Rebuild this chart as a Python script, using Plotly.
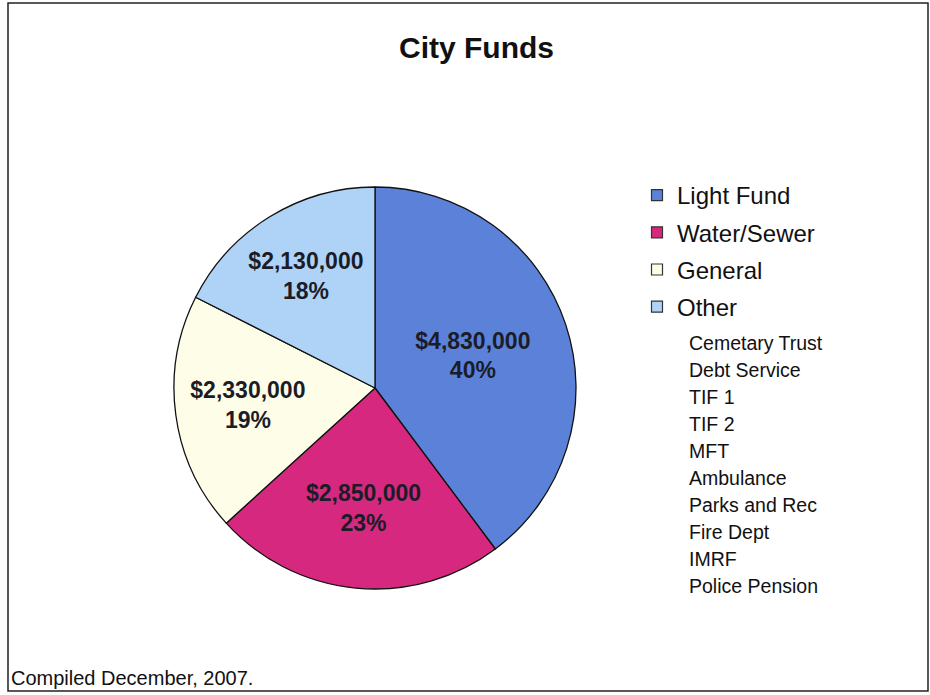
import plotly.graph_objects as go

W, H = 930, 695

# ---- data ----
fund_labels = ["Light Fund", "Water/Sewer", "General", "Other"]
fund_values = [4830000, 2850000, 2330000, 2130000]
fund_colors = ["#5B82D8", "#D6287F", "#FEFEE8", "#AED3F7"]
other_items = ["Cemetary Trust", "Debt Service", "TIF 1", "TIF 2", "MFT",
               "Ambulance", "Parks and Rec", "Fire Dept", "IMRF", "Police Pension"]
title_text = "City Funds"
footnote_text = "Compiled December, 2007."


def px_x(x):
    return x / W


def px_y(y):
    return 1 - y / H


FONT = "Liberation Sans, Arial, sans-serif"

fig = go.Figure()
fig.add_trace(go.Pie(
    labels=fund_labels,
    values=fund_values,
    marker=dict(colors=fund_colors, line=dict(color="#111111", width=1.3)),
    sort=False,
    direction="clockwise",
    rotation=0,
    texttemplate="$%{value:,.0f}<br>%{percent:.0%}",
    textposition="inside",
    insidetextorientation="horizontal",
    textfont=dict(family=FONT, size=23, color="#1c1c28", weight="bold"),
    hoverinfo="label+value+percent",
    domain=dict(x=[px_x(174), px_x(576)], y=[px_y(589), px_y(187)]),
    showlegend=False,
))

# legend entries (one per fund, matching pie colours)
for lab, col in zip(fund_labels, fund_colors):
    fig.add_trace(go.Scatter(
        x=[None], y=[None], mode="markers", name=lab, legendgroup=lab,
        marker=dict(symbol="square", size=11, color=col, line=dict(color="#333333", width=1.2)),
        hoverinfo="skip", showlegend=True,
    ))

annotations = [
    dict(text="<b>" + title_text + "</b>", x=px_x(476), y=px_y(48), xref="paper", yref="paper",
         xanchor="center", yanchor="middle", showarrow=False,
         font=dict(family=FONT, size=30, color="#111111")),
    dict(text=footnote_text, x=px_x(9), y=px_y(678), xref="paper", yref="paper",
         xanchor="left", yanchor="middle", showarrow=False,
         font=dict(family=FONT, size=20, color="#111111")),
]
for i, item in enumerate(other_items):
    annotations.append(dict(text=item, x=px_x(687), y=px_y(343 + 27 * i), xref="paper", yref="paper",
                            xanchor="left", yanchor="middle", showarrow=False,
                            font=dict(family=FONT, size=19.5, color="#111111")))

fig.update_layout(
    width=W, height=H,
    margin=dict(l=0, r=0, t=0, b=0),
    paper_bgcolor="white",
    plot_bgcolor="white",
    xaxis=dict(visible=False, domain=[0.9, 0.91]),
    yaxis=dict(visible=False, domain=[0.9, 0.91]),
    showlegend=True,
    legend=dict(x=px_x(637), y=px_y(173), xanchor="left", yanchor="top",
                font=dict(family=FONT, size=24, color="#111111"),
                bgcolor="rgba(0,0,0,0)", itemwidth=30, traceorder="grouped",
                tracegroupgap=3),
    annotations=annotations,
    shapes=[dict(type="rect", xref="paper", yref="paper",
                 x0=px_x(8), x1=px_x(928), y0=px_y(691), y1=px_y(3),
                 line=dict(color="#222222", width=1.5))],
)

fig.write_html("out.html", config={"displayModeBar": False},
               post_script="document.body.style.margin='0px';")
